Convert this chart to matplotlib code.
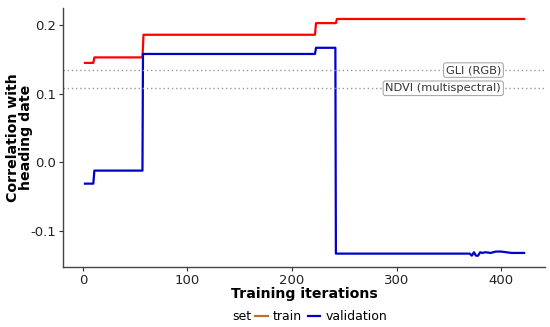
import matplotlib
matplotlib.use("Agg")
import matplotlib.pyplot as plt
from matplotlib.lines import Line2D

train_x = [2, 10, 11, 57, 58, 222, 223, 242, 243, 422]
train_y = [0.145, 0.145, 0.153, 0.153, 0.186, 0.186, 0.203, 0.203, 0.209, 0.209]

val_x = [2, 10, 11, 57, 57.5, 222, 223, 241.5, 242, 370, 372, 374, 376, 378, 380, 382, 385, 390, 395, 400, 405, 410, 415, 422]
val_y = [-0.031, -0.031, -0.012, -0.012, 0.158, 0.158, 0.167, 0.167, -0.133, -0.133, -0.136, -0.131, -0.136, -0.136, -0.131, -0.132, -0.131, -0.132, -0.130, -0.130, -0.131, -0.132, -0.132, -0.132]

ref_names = ["GLI (RGB)", "NDVI (multispectral)"]
ref_values = [0.1345, 0.108]

fig = plt.figure(figsize=(5.5, 3.27), dpi=100)
ax = fig.add_axes([63/550, 60/327, 482/550, 259/327])

ax.plot(train_x, train_y, color="#ff0000", lw=1.6)
ax.plot(val_x, val_y, color="#0000cc", lw=1.6)

for name, v in zip(ref_names, ref_values):
    ax.axhline(v, color="#999999", ls=(0, (1, 2)), lw=1.0)
    ax.text(400, v, name, ha="right", va="center", fontsize=8.2, color="#333333",
            bbox=dict(boxstyle="round,pad=0.2", fc="white", ec="#aaaaaa", lw=0.8))

ax.set_xlim(-19, 442)
ax.set_ylim(-0.1525, 0.225)
ax.set_xticks([0, 100, 200, 300, 400])
ax.set_yticks([-0.1, 0.0, 0.1, 0.2])
ax.set_yticklabels(["-0.1", "0.0", "0.1", "0.2"])
ax.tick_params(labelsize=9.5, colors="#333333", length=3, width=0.8, pad=2)
ax.tick_params(axis="both", labelcolor="#222222")
for s in ["top", "right"]:
    ax.spines[s].set_visible(False)
for s in ["left", "bottom"]:
    ax.spines[s].set_color("#444444")
    ax.spines[s].set_linewidth(1.0)

ax.set_xlabel("Training iterations", fontsize=10.2, fontweight="bold", labelpad=0)
ax.set_ylabel("Correlation with\nheading date", fontsize=10.2, fontweight="bold",
              linespacing=0.95)
ax.yaxis.set_label_coords(-30/482, 0.5)

handles = [Line2D([], [], color="#b87333", lw=1.6), Line2D([], [], color="#0000cc", lw=1.6)]
ly = 1 - 317/327
fig.text(232/550, ly, "set", fontsize=9, va="center", ha="left")
fig.legend(handles, ["train", "validation"], loc="center left",
           bbox_to_anchor=(255/550, ly), ncol=2, frameon=False,
           fontsize=9, handlelength=1.0, handletextpad=0.4, columnspacing=0.5,
           borderpad=0, borderaxespad=0)

fig.savefig("out.png", dpi=100, facecolor="white")
